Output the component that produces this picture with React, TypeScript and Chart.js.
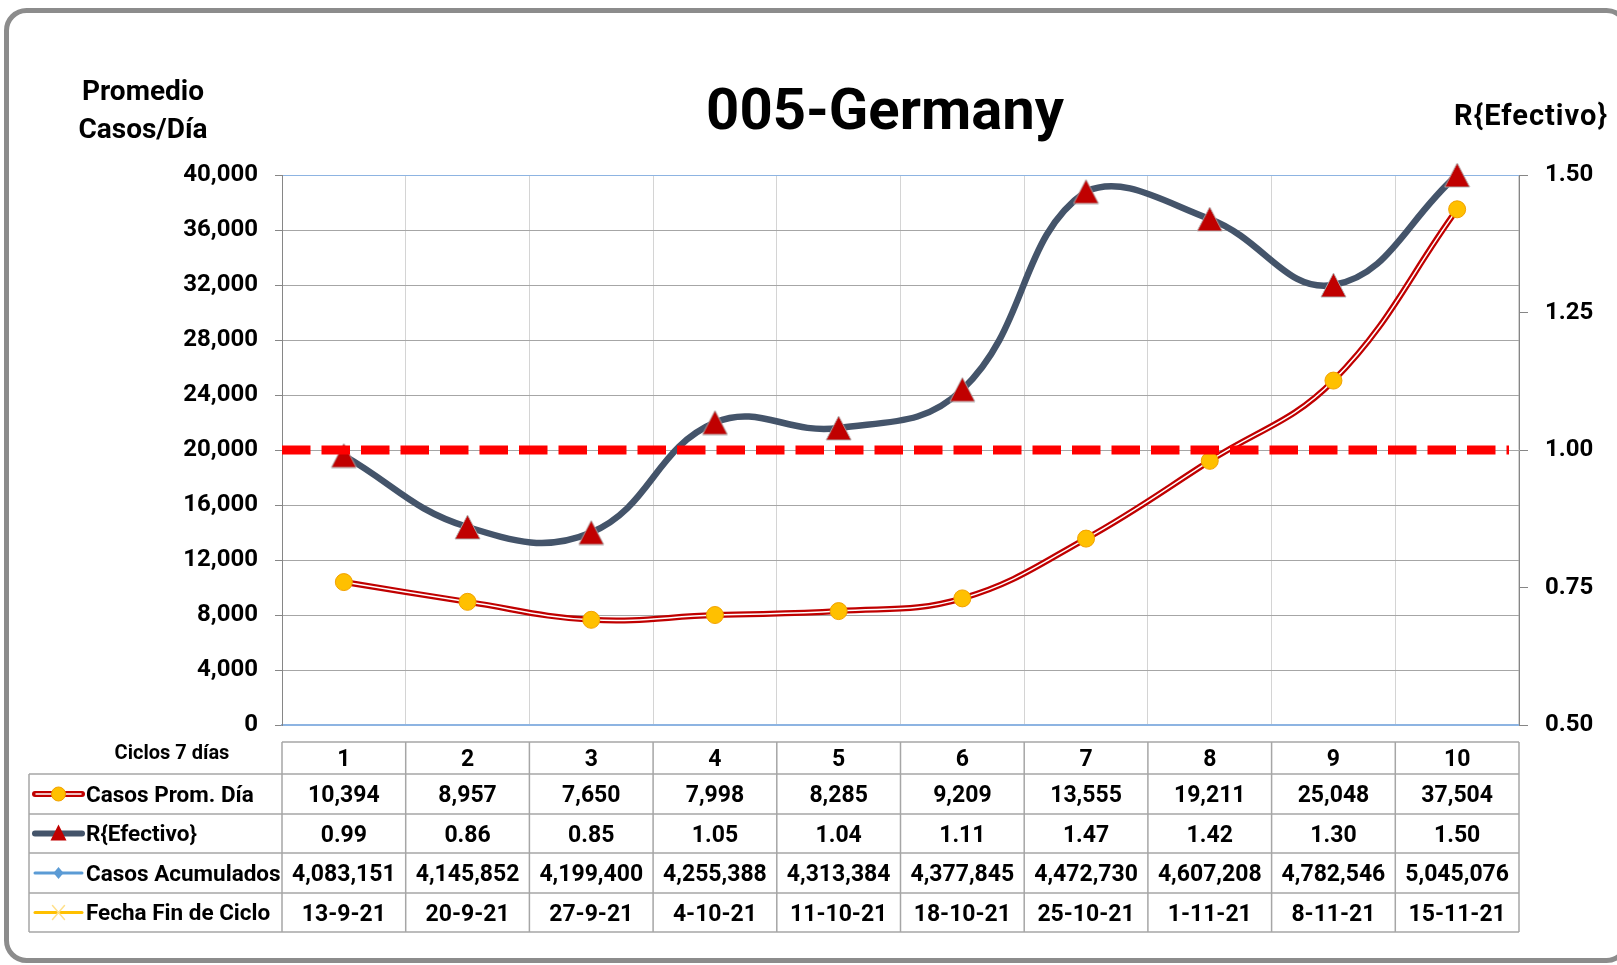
import React, { useEffect, useRef } from 'react';
import { Chart, registerables } from 'chart.js';

Chart.register(...registerables);

// ---------- data ----------
const CYCLES = ['1', '2', '3', '4', '5', '6', '7', '8', '9', '10'];
const CASOS_PROM_DIA = [10394, 8957, 7650, 7998, 8285, 9209, 13555, 19211, 25048, 37504];
const R_EFECTIVO = [0.99, 0.86, 0.85, 1.05, 1.04, 1.11, 1.47, 1.42, 1.3, 1.5];
const CASOS_ACUMULADOS = [4083151, 4145852, 4199400, 4255388, 4313384, 4377845, 4472730, 4607208, 4782546, 5045076];
const FECHA_FIN_CICLO = ['13-9-21', '20-9-21', '27-9-21', '4-10-21', '11-10-21', '18-10-21', '25-10-21', '1-11-21', '8-11-21', '15-11-21'];
const R_THRESHOLD = 1.0;
const LEFT_AXIS = { min: 0, max: 40000, step: 4000 };
const RIGHT_AXIS = { min: 0.5, max: 1.5, step: 0.25 };
const TITLE = '005-Germany';
const LEFT_TITLE = ['Promedio', 'Casos/Día'];
const RIGHT_TITLE = 'R{Efectivo}';
const ROW_HEADER = 'Ciclos 7 días';
const SERIES_NAMES = ['Casos Prom. Día', 'R{Efectivo}', 'Casos Acumulados', 'Fecha Fin de Ciclo'];

// ---------- layout / style ----------
const W = 1617;
const H = 965;
const PLOT = { left: 282, right: 1519, top: 175, bottom: 725 };
const TABLE = { left: 29, headTop: 742, rows: [774, 814, 853, 893, 932] };
const FONT = 'Roboto, "Open Sans", sans-serif';
const RED = '#C00000';
const SLATE = '#44546A';
const GOLD = '#FFC000';
const BLUE = '#5B9BD5';

function makeTriangle(w: number, h: number): HTMLCanvasElement {
  const c = document.createElement('canvas');
  c.width = w + 2;
  c.height = h + 2;
  const g = c.getContext('2d')!;
  g.beginPath();
  g.moveTo(1 + w / 2, 1);
  g.lineTo(1 + w, 1 + h);
  g.lineTo(1, 1 + h);
  g.closePath();
  g.fillStyle = RED;
  g.fill();
  g.strokeStyle = 'rgba(175,175,175,0.9)';
  g.lineWidth = 1;
  g.stroke();
  return c;
}

function drawText(
  ctx: CanvasRenderingContext2D,
  s: string,
  x: number,
  y: number,
  size: number,
  align: CanvasTextAlign = 'center',
  spacing = 0
) {
  ctx.save();
  ctx.font = `bold ${size}px ${FONT}`;
  ctx.textAlign = align;
  ctx.textBaseline = 'alphabetic';
  (ctx as any).letterSpacing = `${spacing}px`;
  ctx.fillStyle = '#000';
  ctx.fillText(s, x, y);
  ctx.restore();
}

export default function App() {
  const ref = useRef<HTMLCanvasElement>(null);

  useEffect(() => {
    document.body.style.margin = '0';
    document.body.style.overflow = 'hidden';
    const canvas = ref.current!;
    const tri = makeTriangle(25, 24);

    const framePlugin = {
      id: 'frame',
      beforeDraw(chart: any) {
        const ctx = chart.ctx as CanvasRenderingContext2D;
        ctx.save();
        ctx.fillStyle = '#fff';
        ctx.fillRect(0, 0, W, H);
        ctx.strokeStyle = '#8C8C8C';
        ctx.lineWidth = 5;
        ctx.beginPath();
        (ctx as any).roundRect(6.5, 10.5, 1620, 950, 20);
        ctx.stroke();
        ctx.restore();
      },
    };

    const thresholdPlugin = {
      id: 'threshold',
      afterDatasetsDraw(chart: any) {
        const ctx = chart.ctx as CanvasRenderingContext2D;
        const y = chart.scales.yR.getPixelForValue(R_THRESHOLD);
        const a = chart.chartArea;
        ctx.save();
        ctx.strokeStyle = '#FF0000';
        ctx.lineWidth = 9;
        ctx.setLineDash([28.5, 11]);
        ctx.beginPath();
        ctx.moveTo(a.left, y);
        ctx.lineTo(a.right - 10, y);
        ctx.stroke();
        ctx.restore();
      },
    };

    const textPlugin = {
      id: 'texts',
      afterDraw(chart: any) {
        const ctx = chart.ctx as CanvasRenderingContext2D;
        drawText(ctx, TITLE, 885, 129, 58);
        drawText(ctx, LEFT_TITLE[0], 143, 100, 28);
        drawText(ctx, LEFT_TITLE[1], 143, 138, 28);
        drawText(ctx, RIGHT_TITLE, 1531, 125, 29, 'center', 1);
      },
    };

    const tablePlugin = {
      id: 'table',
      afterDraw(chart: any) {
        const ctx = chart.ctx as CanvasRenderingContext2D;
        const x = chart.scales.x;
        const a = chart.chartArea;
        const half = (x.getPixelForValue(1) - x.getPixelForValue(0)) / 2;
        const rows = TABLE.rows;
        const top = TABLE.headTop;
        const bottom = rows[rows.length - 1];

        ctx.save();
        ctx.strokeStyle = '#A6A6A6';
        ctx.lineWidth = 1.5;
        ctx.beginPath();
        ctx.moveTo(a.left, top);
        ctx.lineTo(a.right, top);
        rows.forEach((ry) => {
          ctx.moveTo(TABLE.left, ry);
          ctx.lineTo(a.right, ry);
        });
        ctx.moveTo(TABLE.left, rows[0]);
        ctx.lineTo(TABLE.left, bottom);
        for (let i = 0; i <= CYCLES.length; i++) {
          const vx = i < CYCLES.length ? x.getPixelForValue(i) - half : x.getPixelForValue(CYCLES.length - 1) + half;
          ctx.moveTo(vx, top);
          ctx.lineTo(vx, bottom);
        }
        ctx.stroke();
        ctx.restore();

        drawText(ctx, ROW_HEADER, 172, 759, 20);
        const cell = (size: number, r0: number, r1: number) => (r0 + r1) / 2 + (size * 0.711) / 2;
        CYCLES.forEach((c, i) => drawText(ctx, c, x.getPixelForValue(i), cell(23, top, rows[0]), 23));

        const values: string[][] = [
          CASOS_PROM_DIA.map((v) => v.toLocaleString('en-US')),
          R_EFECTIVO.map((v) => v.toFixed(2)),
          CASOS_ACUMULADOS.map((v) => v.toLocaleString('en-US')),
          FECHA_FIN_CICLO,
        ];
        values.forEach((row, r) => {
          const by = cell(23, rows[r], rows[r + 1]);
          drawText(ctx, SERIES_NAMES[r], 86, cell(22.5, rows[r], rows[r + 1]), 22.5, 'left');
          row.forEach((s, i) => drawText(ctx, s, x.getPixelForValue(i), by, 23));
        });

        // legend keys
        const x1 = 35, x2 = 82, cx = 58.5;
        const ym = (r: number) => (rows[r] + rows[r + 1]) / 2;
        ctx.save();
        ctx.lineCap = 'round';
        let y = ym(0);
        ctx.strokeStyle = RED;
        ctx.lineWidth = 6;
        ctx.beginPath(); ctx.moveTo(x1, y); ctx.lineTo(x2, y); ctx.stroke();
        ctx.strokeStyle = '#fff';
        ctx.lineWidth = 1.5;
        ctx.beginPath(); ctx.moveTo(x1 + 1, y); ctx.lineTo(x2 - 1, y); ctx.stroke();
        ctx.fillStyle = GOLD;
        ctx.strokeStyle = '#F2A100';
        ctx.lineWidth = 1;
        ctx.beginPath(); ctx.arc(cx, y, 7, 0, Math.PI * 2); ctx.fill(); ctx.stroke();
        y = ym(1);
        ctx.strokeStyle = SLATE;
        ctx.lineWidth = 6;
        ctx.beginPath(); ctx.moveTo(x1, y); ctx.lineTo(x2, y); ctx.stroke();
        ctx.fillStyle = RED;
        ctx.beginPath(); ctx.moveTo(cx, y - 9); ctx.lineTo(cx + 8, y + 7); ctx.lineTo(cx - 8, y + 7); ctx.closePath(); ctx.fill();
        y = ym(2);
        ctx.strokeStyle = BLUE;
        ctx.lineWidth = 3;
        ctx.beginPath(); ctx.moveTo(x1, y); ctx.lineTo(x2, y); ctx.stroke();
        ctx.fillStyle = BLUE;
        ctx.beginPath(); ctx.moveTo(cx, y - 6); ctx.lineTo(cx + 5, y); ctx.lineTo(cx, y + 6); ctx.lineTo(cx - 5, y); ctx.closePath(); ctx.fill();
        y = ym(3);
        ctx.strokeStyle = GOLD;
        ctx.lineWidth = 3;
        ctx.beginPath(); ctx.moveTo(x1, y); ctx.lineTo(x2, y); ctx.stroke();
        ctx.strokeStyle = '#FFE08A';
        ctx.lineWidth = 1.5;
        ctx.beginPath();
        ctx.moveTo(cx - 6, y - 7); ctx.lineTo(cx + 6, y + 7);
        ctx.moveTo(cx + 6, y - 7); ctx.lineTo(cx - 6, y + 7);
        ctx.stroke();
        ctx.restore();
      },
    };

    const chart = new Chart(canvas, {
      type: 'line',
      data: {
        labels: CYCLES,
        datasets: [
          {
            label: SERIES_NAMES[1],
            data: R_EFECTIVO,
            yAxisID: 'yR',
            borderColor: SLATE,
            borderWidth: 6.5,
            tension: 0.42,
            pointStyle: tri as any,
            pointRadius: 13,
            pointHoverRadius: 13,
            order: 1,
            clip: false as any,
          },
          {
            label: SERIES_NAMES[0] + ' markers',
            data: CASOS_PROM_DIA,
            yAxisID: 'y',
            showLine: false,
            pointStyle: 'circle',
            pointRadius: 8.5,
            pointBackgroundColor: GOLD,
            pointBorderColor: '#F2A100',
            pointBorderWidth: 1,
            order: 2,
            clip: false as any,
          },
          {
            label: SERIES_NAMES[0] + ' inner',
            data: CASOS_PROM_DIA,
            yAxisID: 'y',
            borderColor: '#FFFFFF',
            borderWidth: 1.5,
            tension: 0.4,
            pointRadius: 0,
            order: 3,
            clip: false as any,
          },
          {
            label: SERIES_NAMES[0],
            data: CASOS_PROM_DIA,
            yAxisID: 'y',
            borderColor: RED,
            borderWidth: 6,
            tension: 0.4,
            pointRadius: 0,
            order: 4,
            clip: false as any,
          },
        ],
      },
      options: {
        responsive: false,
        animation: false,
        devicePixelRatio: 1,
        events: [],
        layout: { padding: { left: 0, right: 0, top: PLOT.top, bottom: H - PLOT.bottom } },
        plugins: { legend: { display: false }, title: { display: false }, tooltip: { enabled: false } },
        scales: {
          x: {
            type: 'category',
            offset: true,
            grid: { offset: true, color: '#D4D4D4', lineWidth: 1, drawTicks: false },
            border: { display: true, color: '#8DB4E2', width: 1.5 },
            ticks: { display: false },
            afterFit: (s: any) => { s.height = 0; },
          },
          y: {
            type: 'linear',
            position: 'left',
            min: LEFT_AXIS.min,
            max: LEFT_AXIS.max,
            ticks: {
              stepSize: LEFT_AXIS.step,
              padding: 17,
              color: '#000',
              font: { family: FONT, weight: 'bold', size: 24 },
              callback: (v: any) => Number(v).toLocaleString('en-US'),
            },
            grid: {
              color: (c: any) => (c.tick && (c.tick.value === LEFT_AXIS.max || c.tick.value === LEFT_AXIS.min) ? '#8DB4E2' : '#A6A6A6'),
              tickColor: '#868686',
              tickLength: 7,
              lineWidth: 1,
            },
            border: { display: true, color: '#868686', width: 1 },
            afterFit: (s: any) => { s.width = PLOT.left; },
          },
          yR: {
            type: 'linear',
            position: 'right',
            min: RIGHT_AXIS.min,
            max: RIGHT_AXIS.max,
            ticks: {
              stepSize: RIGHT_AXIS.step,
              padding: 17,
              color: '#000',
              font: { family: FONT, weight: 'bold', size: 24 },
              callback: (v: any) => Number(v).toFixed(2),
            },
            grid: { drawOnChartArea: false, tickColor: '#868686', tickLength: 9 },
            border: { display: true, color: '#868686', width: 1 },
            afterFit: (s: any) => { s.width = W - PLOT.right; },
          },
        },
      } as any,
      plugins: [framePlugin, thresholdPlugin, textPlugin, tablePlugin],
    });

    return () => chart.destroy();
  }, []);

  return <canvas ref={ref} width={W} height={H} style={{ display: 'block', width: W, height: H }} />;
}
